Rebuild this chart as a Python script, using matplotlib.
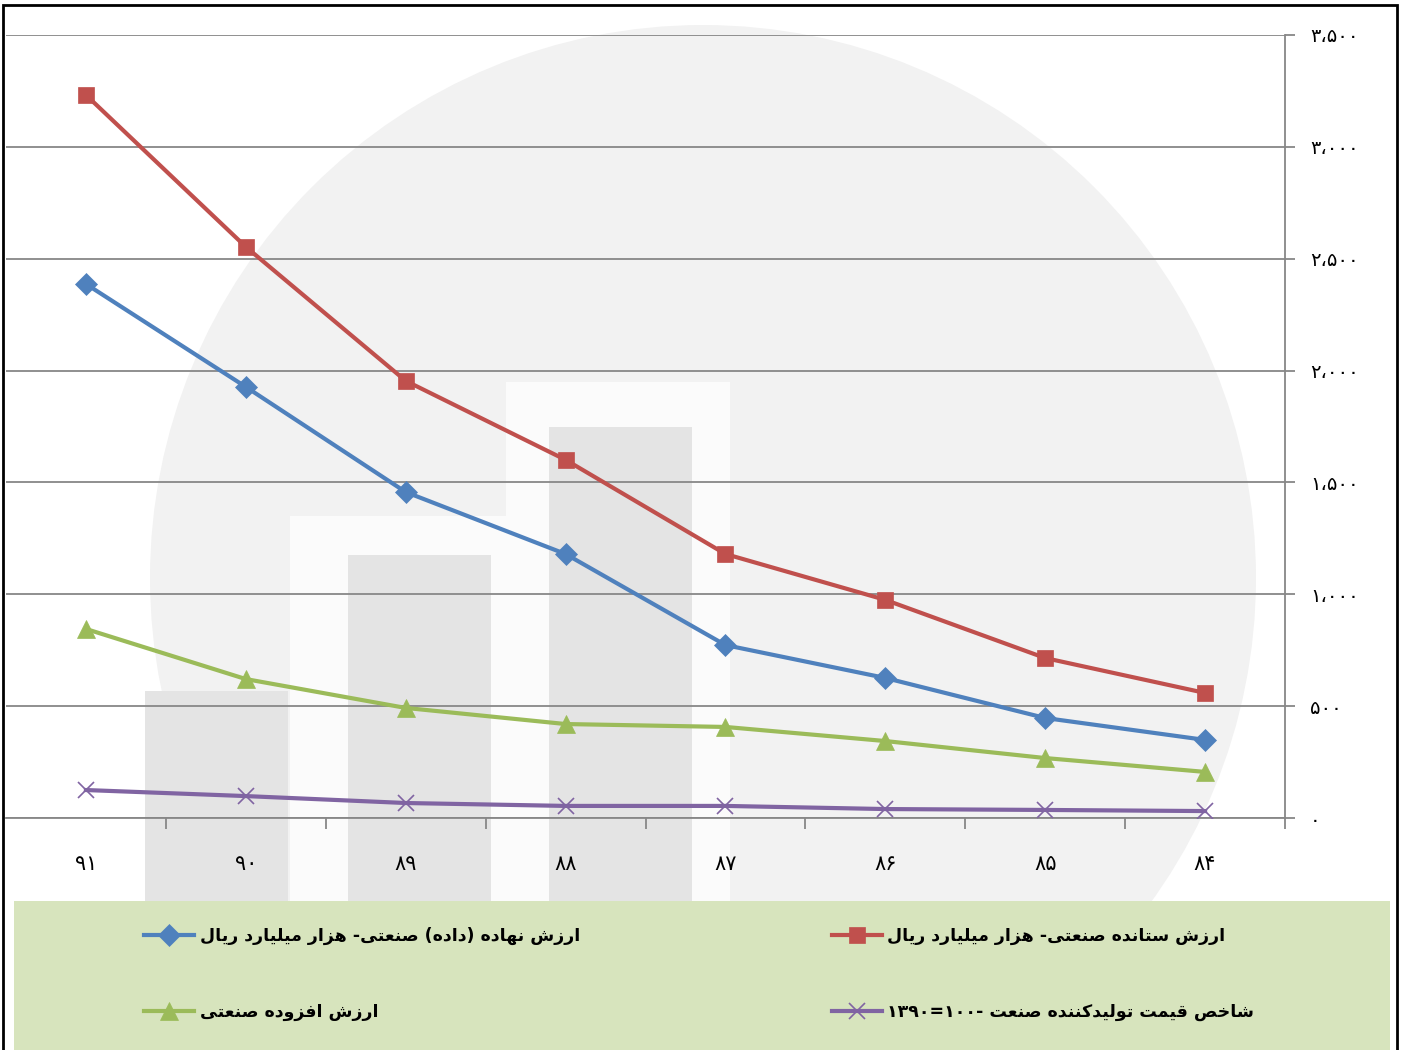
import re
import numpy as np
import matplotlib
matplotlib.use("Agg")
import matplotlib.pyplot as plt
from matplotlib.patches import Rectangle, Ellipse
from matplotlib.ticker import FuncFormatter, FixedLocator

# سال‌ها (از چپ به راست)
years = ["۹۱", "۹۰", "۸۹", "۸۸", "۸۷", "۸۶", "۸۵", "۸۴"]

# مقادیر خوانده شده از نمودار
setande = [3232, 2553, 1954, 1601, 1180, 975, 715, 559]   # ارزش ستانده
nahade = [2387, 1927, 1457, 1180, 773, 626, 447, 349]     # ارزش نهاده
afzoode = [845, 621, 492, 420, 407, 344, 268, 206]        # ارزش افزوده
shakhes = [125, 98, 67, 54, 54, 40, 36, 31]               # شاخص قیمت

labels = [
    "ارزش نهاده (داده) صنعتی- هزار میلیارد ریال",
    "ارزش افزوده صنعتی",
    "ارزش ستانده صنعتی- هزار میلیارد ریال",
    "شاخص قیمت تولیدکننده صنعت -۱۰۰=۱۳۹۰",
]

# شکل‌های حروف: تنها، پایانی، آغازی، میانی
FORMS = {
    'ا': ('\uFE8D', '\uFE8E', None, None),
    'ر': ('\uFEAD', '\uFEAE', None, None),
    'ز': ('\uFEAF', '\uFEB0', None, None),
    'د': ('\uFEA9', '\uFEAA', None, None),
    'و': ('\uFEED', '\uFEEE', None, None),
    'ش': ('\uFEB5', '\uFEB6', '\uFEB7', '\uFEB8'),
    'ن': ('\uFEE5', '\uFEE6', '\uFEE7', '\uFEE8'),
    'ه': ('\uFEE9', '\uFEEA', '\uFEEB', '\uFEEC'),
    'ص': ('\uFEB9', '\uFEBA', '\uFEBB', '\uFEBC'),
    'ع': ('\uFEC9', '\uFECA', '\uFECB', '\uFECC'),
    'ت': ('\uFE95', '\uFE96', '\uFE97', '\uFE98'),
    'ی': ('\uFBFC', '\uFBFD', '\uFBFE', '\uFBFF'),
    'م': ('\uFEE1', '\uFEE2', '\uFEE3', '\uFEE4'),
    'ل': ('\uFEDD', '\uFEDE', '\uFEDF', '\uFEE0'),
    'س': ('\uFEB1', '\uFEB2', '\uFEB3', '\uFEB4'),
    'ف': ('\uFED1', '\uFED2', '\uFED3', '\uFED4'),
    'ق': ('\uFED5', '\uFED6', '\uFED7', '\uFED8'),
    'ک': ('\uFB8E', '\uFB8F', '\uFB90', '\uFB91'),
    'خ': ('\uFEA5', '\uFEA6', '\uFEA7', '\uFEA8'),
}


def shape(s):
    out = []
    for i, ch in enumerate(s):
        if ch not in FORMS:
            out.append(ch)
            continue
        f = FORMS[ch]
        prev = s[i - 1] if i > 0 else ''
        nxt = s[i + 1] if i + 1 < len(s) else ''
        jp = prev in FORMS and FORMS[prev][2] is not None
        jn = f[2] is not None and nxt in FORMS
        if jp and jn:
            out.append(f[3])
        elif jp:
            out.append(f[1])
        elif jn:
            out.append(f[2])
        else:
            out.append(f[0])
    return ''.join(out)


def rtl(s):
    s = shape(s)
    tokens = re.findall(r'[0-9\u06F0-\u06F9\u060C]+|.', s)
    mirror = {'(': ')', ')': '('}
    return ''.join(mirror.get(t, t) for t in reversed(tokens))


def fa_num(v, pos=None):
    txt = f"{v:,.0f}"
    return txt.translate(str.maketrans("0123456789,", "۰۱۲۳۴۵۶۷۸۹،"))


W, H = 1403, 1050
fig = plt.figure(figsize=(W / 100, H / 100), dpi=100)

# پس‌زمینه کم‌رنگ (واترمارک)
fig.patches.append(Ellipse((703 / W, 1 - 578 / H), 1106 / W, 1106 / H,
                           transform=fig.transFigure, fc="#F2F2F2", ec="none", zorder=0))
for x0, x1, top in [(290, 506, 516), (506, 730, 382)]:
    fig.patches.append(Rectangle((x0 / W, 0), (x1 - x0) / W, 1 - top / H,
                                 transform=fig.transFigure, fc="#FBFBFB", ec="none", zorder=0))
for x0, x1, top in [(145, 288, 691), (348, 491, 555), (549, 692, 427)]:
    fig.patches.append(Rectangle((x0 / W, 0), (x1 - x0) / W, 1 - top / H,
                                 transform=fig.transFigure, fc="#E4E4E4", ec="none", zorder=0))

# کادر راهنما
fig.patches.append(Rectangle((14 / W, 0), 1376 / W, 1 - 901 / H,
                             transform=fig.transFigure, fc="#D7E4BD", ec="none", zorder=1))
# قاب دور تصویر
fig.patches.append(Rectangle((3 / W, -0.01), 1394 / W, 1.01 - 5 / H,
                             transform=fig.transFigure, fc="none", ec="black", lw=2, zorder=6))

ax = fig.add_axes([6 / W, 1 - 818 / H, 1279 / W, 783 / H])
ax.set_facecolor("none")
ax.set_zorder(2)

x = np.arange(len(years))
series = [
    (nahade, "#4F81BD", "D", 11),
    (afzoode, "#9BBB59", "^", 13),
    (setande, "#C0504D", "s", 12),
    (shakhes, "#8064A2", "x", 12),
]
for (vals, col, mk, ms), lab in zip(series, labels):
    ax.plot(x, vals, color=col, lw=3, marker=mk, markersize=ms,
            markeredgewidth=1.2 if mk == "x" else 0.5, markeredgecolor=col,
            label=rtl(lab), zorder=3)

ax.set_xlim(-0.5, len(years) - 0.5)
ax.set_ylim(0, 3500)
ax.set_xticks(x)
ax.set_xticklabels(years, fontsize=15)
ax.xaxis.set_minor_locator(FixedLocator(np.arange(0.5, len(years), 1)))
ax.tick_params(axis="x", which="major", length=0, pad=26)
ax.tick_params(axis="x", which="minor", length=8, color="#878787", width=1.3)

ax.yaxis.tick_right()
ax.set_yticks(np.arange(0, 3501, 500))
ax.yaxis.set_major_formatter(FuncFormatter(fa_num))
ax.tick_params(axis="y", length=7, color="#878787", width=1.3, pad=11, labelsize=14)
ax.grid(axis="y", color="#878787", lw=1.3)
ax.set_axisbelow(True)

for side in ["top", "left"]:
    ax.spines[side].set_visible(False)
for side in ["right", "bottom"]:
    ax.spines[side].set_color("#878787")
    ax.spines[side].set_linewidth(1.3)

handles, labs = ax.get_legend_handles_labels()
leg = fig.legend(handles, labs, ncol=2, loc="center", bbox_to_anchor=(699 / W, 1 - 974 / H),
                 frameon=False, prop={"weight": "bold", "size": 12.5}, handlelength=2.9,
                 columnspacing=14.5, labelspacing=3.3, handletextpad=0.3)
leg.set_zorder(5)

fig.savefig("out.png", dpi=100)
